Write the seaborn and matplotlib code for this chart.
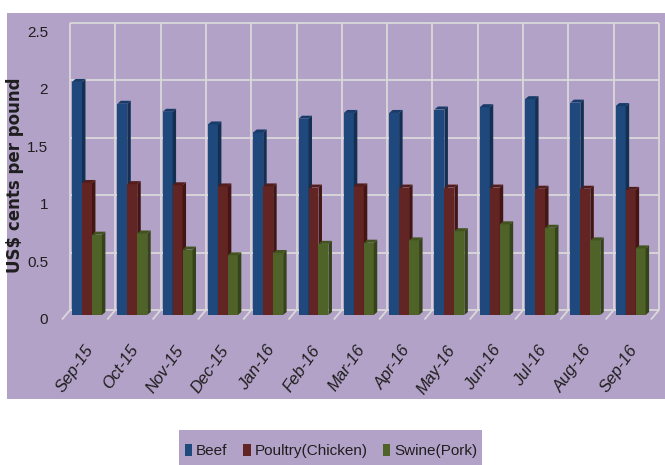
import numpy as np
import pandas as pd
import seaborn as sns
import matplotlib
matplotlib.use("Agg")
import matplotlib.pyplot as plt
from matplotlib import font_manager
from matplotlib.patches import Rectangle, Polygon

# ---- data -------------------------------------------------------------
months = ["Sep-15", "Oct-15", "Nov-15", "Dec-15", "Jan-16", "Feb-16", "Mar-16",
          "Apr-16", "May-16", "Jun-16", "Jul-16", "Aug-16", "Sep-16"]
beef = [2.03, 1.84, 1.77, 1.66, 1.59, 1.71, 1.76, 1.76, 1.79, 1.81, 1.88, 1.85, 1.82]
poultry = [1.15, 1.14, 1.13, 1.12, 1.12, 1.11, 1.12, 1.11, 1.11, 1.11, 1.10, 1.10, 1.09]
swine = [0.70, 0.71, 0.57, 0.52, 0.54, 0.62, 0.63, 0.65, 0.73, 0.79, 0.76, 0.65, 0.58]
series_names = ["Beef", "Poultry(Chicken)", "Swine(Pork)"]
y_ticks = [0, 0.5, 1, 1.5, 2, 2.5]
y_tick_labels = ["0", "0.5", "1", "1.5", "2", "2.5"]
y_title = "US$ cents per pound"

# ---- style ------------------------------------------------------------
PURPLE = "#B3A2C7"
GRID = "#D9D9D9"
TEXT = "#1E1E1E"
FRONT = ["#1F497D", "#632523", "#4F6228"]
SIDE = ["#132F52", "#431614", "#34431A"]
TOP = ["#183C69", "#531D1B", "#42531F"]

sns.set_theme(style="white")
available = {f.name for f in font_manager.fontManager.ttflist}
narrow = "Liberation Sans Narrow" if "Liberation Sans Narrow" in available else "Liberation Sans"
plt.rcParams["font.family"] = [narrow, "DejaVu Sans"]

W, H = 665, 465
fig = plt.figure(figsize=(W / 100, H / 100), dpi=100)
fig.patch.set_facecolor("white")


def fx(px):
    return px / W


def fy(py):
    return 1 - py / H


# chart panel background
fig.add_artist(Rectangle((fx(7), fy(399)), fx(665) - fx(7), fy(13) - fy(399),
                         transform=fig.transFigure, facecolor=PURPLE,
                         edgecolor="none", zorder=-2))
# legend panel background
fig.add_artist(Rectangle((fx(179), fy(465)), fx(482) - fx(179), fy(430) - fy(465),
                         transform=fig.transFigure, facecolor=PURPLE,
                         edgecolor="none", zorder=-2))

ax = fig.add_axes([fx(64.3), fy(315), (653.3 - 64.3) / W, (315 - 28) / H])
ax.set_facecolor("none")

df = pd.DataFrame({
    "month": months * 3,
    "series": np.repeat(series_names, len(months)),
    "value": beef + poultry + swine,
})

sns.barplot(data=df, x="month", y="value", hue="series", order=months,
            hue_order=series_names, palette=dict(zip(series_names, FRONT)),
            width=0.66, saturation=1, linewidth=0, ax=ax, legend=False)

ax.set_xlim(-0.5, len(months) - 0.5)
ax.set_ylim(0, 2.5)
ax.set_xticks([])
ax.set_yticks([])
ax.set_xlabel("")
ax.set_ylabel("")
for s in ax.spines.values():
    s.set_visible(False)

# pixel -> data unit conversion
ux = ax.bbox.width / len(months)
uy = ax.bbox.height / 2.5

# back wall of the 3D box, pushed back (right/up) from the bar plane
wdx, wdy = 5.7 / ux, 5 / uy
x0, x1 = -0.5, len(months) - 0.5
for v in y_ticks:
    ax.plot([x0 + wdx, x1 + wdx], [v + wdy, v + wdy], color=GRID, lw=1.3,
            zorder=0.5, clip_on=False, solid_capstyle="butt")
for k in range(len(months) + 1):
    xb = k - 0.5 + wdx
    ax.plot([xb, xb], [wdy, 2.5 + wdy], color=GRID, lw=1.3, zorder=0.5,
            clip_on=False, solid_capstyle="butt")
    # floor edges running to the front
    ax.plot([xb, xb - 8 / ux], [wdy, wdy - 9.5 / uy], color=GRID, lw=1.3,
            zorder=0.5, clip_on=False, solid_capstyle="butt")

# extrude each bar into a box: right side face and top face
ddx, ddy = 3.5 / ux, 3 / uy
for j, cont in enumerate(ax.containers):
    z = 2 + j
    for bar in cont:
        bx, bw, bh = bar.get_x(), bar.get_width(), bar.get_height()
        bar.set_zorder(z)
        bar.set_clip_on(False)
        side = Polygon([(bx + bw, 0), (bx + bw, bh), (bx + bw + ddx, bh + ddy),
                        (bx + bw + ddx, ddy)], closed=True, facecolor=SIDE[j],
                       edgecolor="none", zorder=z, clip_on=False)
        top = Polygon([(bx, bh), (bx + bw, bh), (bx + bw + ddx, bh + ddy),
                       (bx + ddx, bh + ddy)], closed=True, facecolor=TOP[j],
                      edgecolor="none", zorder=z, clip_on=False)
        ax.add_patch(side)
        ax.add_patch(top)

# value axis labels (front edge of the box)
for v, lab in zip(y_ticks, y_tick_labels):
    ax.text(-0.5 - 16.3 / ux, v - 5 / uy, lab, ha="right", va="center",
            fontsize=11, color=TEXT, clip_on=False)

# category labels
for i, m in enumerate(months):
    ax.text(i + 3 / ux, -32 / uy, m, rotation=55, rotation_mode="anchor",
            ha="right", va="center", fontsize=12, fontstyle="italic",
            color=TEXT, clip_on=False)

fig.text(fx(15.5), fy(175), y_title, rotation=90, ha="center", va="center",
         fontsize=12, fontweight="bold", color=TEXT, family="DejaVu Sans")

handles = [Rectangle((0, 0), 1, 1, facecolor=c, edgecolor="none") for c in FRONT]
fig.legend(handles, series_names, loc="center", bbox_to_anchor=(fx(331), fy(451)),
           ncol=3, frameon=False, handlelength=0.5, handleheight=0.9,
           handletextpad=0.25, columnspacing=1.0, fontsize=11,
           labelcolor=TEXT)

fig.savefig("out.png", dpi=100, facecolor="white")
